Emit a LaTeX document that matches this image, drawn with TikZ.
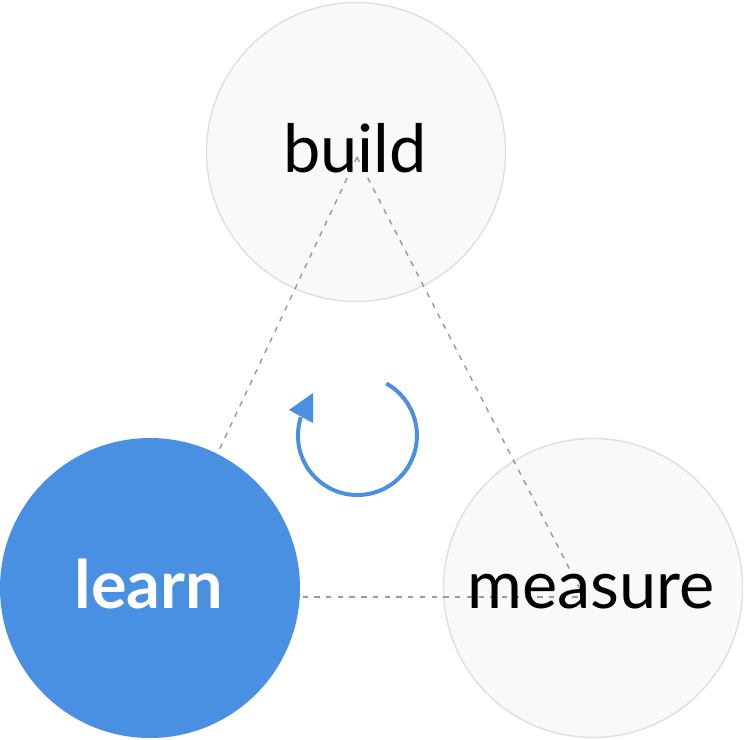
\documentclass[tikz,border=0pt]{standalone}
\usepackage{fontspec}
\setmainfont{Lato}
\definecolor{bluefill}{HTML}{4A90E2}
\definecolor{greyfill}{HTML}{F9F9F9}
\definecolor{greyline}{HTML}{E0E0E0}
\definecolor{dashgrey}{HTML}{9A9A9A}
\begin{document}
\begin{tikzpicture}[x=0.75pt,y=-0.75pt,
  bubble/.style={draw=greyline, line width=1.1pt, fill=greyfill, circle, minimum size=299*0.75pt, inner sep=0pt},
  hot/.style={fill=bluefill, circle, minimum size=300*0.75pt, inner sep=0pt},
  word/.style={anchor=base, font=\fontsize{50}{50}\selectfont, inner sep=0pt},
  link/.style={draw=dashgrey, line width=1.1pt, dash pattern=on 4pt off 4.8pt}]
\useasboundingbox (0,0) rectangle (744,740);

\node[bubble] (build) at (356,152) {};
\node[bubble] (measure) at (593,588) {};

% triangle corners
\coordinate (b) at (357,157);
\coordinate (l) at (150,597);
\coordinate (m) at (584,597);

\path[link] (b) -- (l);
\path[link] (b) -- (m);
\path[link] (l) -- (m);

\node[hot] (learn) at (150,588) {};

\node[word] (buildtxt) at (355,172) {build};
\node[word] (measuretxt) at (591,608) {measure};
\node[word, text=white, font=\fontsize{50}{50}\selectfont\bfseries] (learntxt) at (149,608) {learn};

% loop arrow
\draw[bluefill, line width=3pt] (386.3,383.5) arc[start angle=-61, end angle=198, radius=59.5];
\fill[bluefill] (289,410) -- (313,393) -- (313,423) -- cycle;
\end{tikzpicture}
\end{document}
